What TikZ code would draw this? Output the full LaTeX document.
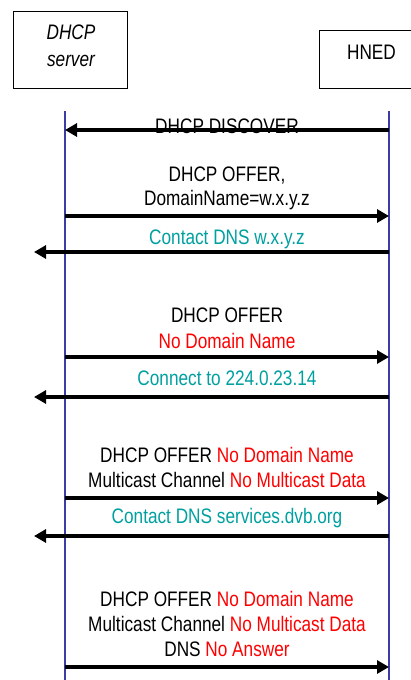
\documentclass[tikz,border=0pt]{standalone}
\usepackage{fontspec}
\setmainfont{Liberation Sans}[FakeStretch=0.82]
\usetikzlibrary{arrows.meta}
\definecolor{lifec}{RGB}{60,60,165}
\definecolor{tealc}{RGB}{0,160,160}
\definecolor{redc}{RGB}{255,0,0}
\begin{document}
\begin{tikzpicture}[x=1pt,y=-1pt,
  lbl/.style={anchor=base, font=\fontsize{21}{25}\selectfont, inner sep=0pt},
  msg/.style={line width=4pt, -{Triangle[length=12pt,width=13pt]}},
  actor/.style={draw, line width=1pt, inner sep=0pt},
  lifeline/.style={draw=lifec, line width=2pt}]
\useasboundingbox (0,0) rectangle (411,680);
\clip (0,0) rectangle (411,680);
\fill[white] (0,0) rectangle (411,680);
% actors
\node[actor, minimum width=114pt, minimum height=77pt] (srv) at (70,49.5) {};
\node[lbl, font=\fontsize{21}{25}\selectfont\itshape] (srvA) at (71,39.3) {DHCP};
\node[lbl, font=\fontsize{21}{25}\selectfont\itshape] (srvB) at (71,66) {server};
\node[actor, minimum width=105pt, minimum height=58pt] (hned) at (371.5,59) {};
\node[lbl] (hnedT) at (371.5,59) {HNED};
% lifelines
\coordinate (sT) at (65,111); \coordinate (sB) at (65,681);
\coordinate (hT) at (389,111); \coordinate (hB) at (389,681);
\draw[lifeline] (sT) -- (sB);
\draw[lifeline] (hT) -- (hB);
% message end points
\coordinate (s1) at (65,130);   \coordinate (h1) at (389,130);
\coordinate (s2) at (65,216);   \coordinate (h2) at (389,216);
\coordinate (o3) at (34,252);   \coordinate (h3) at (389,252);
\coordinate (s4) at (65,357);   \coordinate (h4) at (389,357);
\coordinate (o5) at (34,397);   \coordinate (h5) at (389,397);
\coordinate (s6) at (65,498);   \coordinate (h6) at (389,498);
\coordinate (o7) at (34,536);   \coordinate (h7) at (389,536);
\coordinate (s8) at (65,667);   \coordinate (h8) at (389,667);
% labels
\node[lbl] (m1) at (227,133) {DHCP DISCOVER};
\node[lbl] (m2a) at (227,181.7) {DHCP OFFER,};
\node[lbl] (m2b) at (227,205.7) {DomainName=w.x.y.z};
\node[lbl, text=tealc] (m3) at (227,244) {Contact DNS w.x.y.z};
\node[lbl] (m4a) at (227,322.7) {DHCP OFFER};
\node[lbl, text=redc] (m4b) at (227,348) {No Domain Name};
\node[lbl, text=tealc] (m5) at (227,385) {Connect to 224.0.23.14};
\node[lbl] (m6a) at (227,462.7) {DHCP OFFER {\color{redc}No Domain Name}};
\node[lbl] (m6b) at (227,487) {Multicast Channel {\color{redc}No Multicast Data}};
\node[lbl, text=tealc] (m7) at (227,523) {Contact DNS services.dvb.org};
\node[lbl] (m8a) at (227,606.7) {DHCP OFFER {\color{redc}No Domain Name}};
\node[lbl] (m8b) at (227,631.7) {Multicast Channel {\color{redc}No Multicast Data}};
\node[lbl] (m8c) at (227,656) {DNS {\color{redc}No Answer}};
% messages
\draw[msg] (h1) -- (s1);
\draw[msg] (s2) -- (h2);
\draw[msg] (h3) -- (o3);
\draw[msg] (s4) -- (h4);
\draw[msg] (h5) -- (o5);
\draw[msg] (s6) -- (h6);
\draw[msg] (h7) -- (o7);
\draw[msg] (s8) -- (h8);
\end{tikzpicture}
\end{document}
